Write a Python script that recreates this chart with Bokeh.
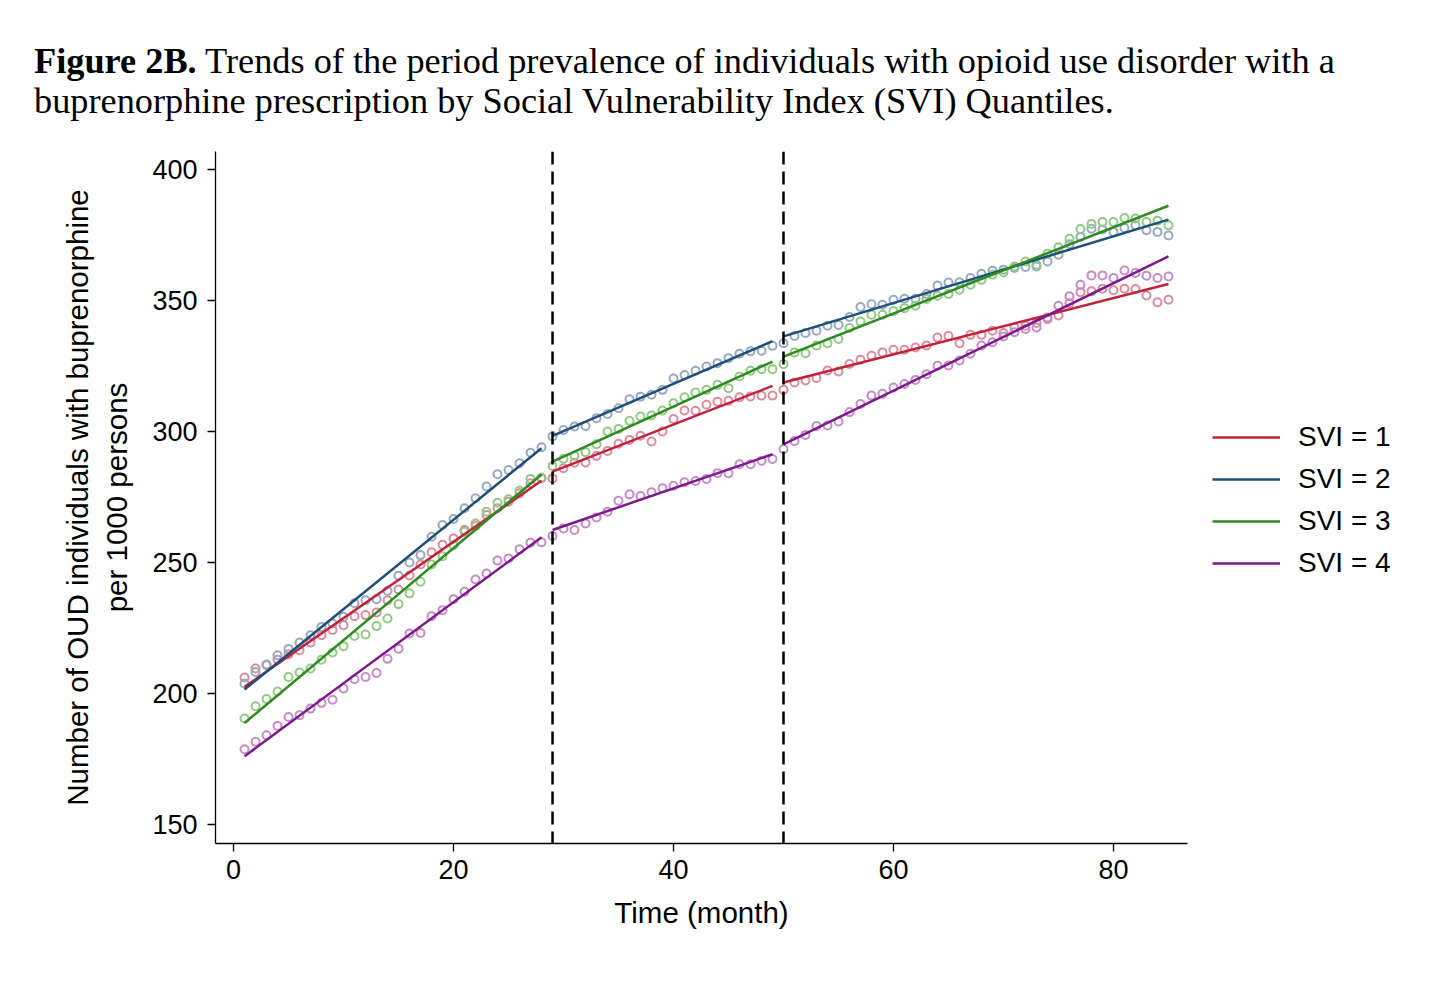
from bokeh.plotting import figure
from bokeh.models import Div, Span, Legend, LegendItem, Range1d, FixedTicker
from bokeh.layouts import column, row
from bokeh.embed import file_html
from bokeh.resources import INLINE

months = list(range(1, 86))

svi1 = [206.1, 209.5, 211.0, 212.9, 215.0, 216.5, 219.4, 222.2, 224.2, 226.0,
        229.5, 229.9, 230.9, 235.6, 239.7, 245.0, 249.2, 253.9, 256.8, 259.1,
        262.4, 263.9, 268.1, 270.7, 273.2, 276.4, 280.2, 282.1,
        282.1, 286.0, 288.1, 288.2, 290.7, 292.6, 295.3, 296.8, 298.4, 296.2,
        300.0, 304.8, 308.0, 307.9, 310.2, 311.4, 311.7, 313.1, 313.4, 313.7, 313.7,
        315.9, 318.7, 319.5, 320.4, 323.3, 322.9, 325.8, 327.4, 328.9, 330.2,
        331.2, 331.2, 332.1, 332.8, 335.9, 336.5, 333.7, 336.9, 336.9, 338.5,
        337.6, 339.7, 340.4, 341.4, 342.9, 344.3, 349.0, 353.2, 353.5, 354.5,
        353.9, 354.5, 354.4, 351.9, 349.3, 350.3]

svi2 = [203.8, 208.2, 210.8, 214.6, 217.0, 219.4, 222.2, 225.4, 226.7, 229.3,
        234.4, 235.6, 236.0, 239.2, 244.9, 250.0, 252.8, 259.8, 264.3, 266.6,
        270.7, 274.5, 279.0, 283.7, 285.3, 287.9, 291.9, 294.0,
        298.1, 300.6, 301.9, 302.1, 305.1, 306.7, 308.9, 312.3, 313.3, 314.0,
        315.9, 320.2, 321.6, 323.2, 324.8, 326.1, 328.0, 329.7, 330.6, 330.8, 332.7,
        333.7, 336.5, 337.6, 338.5, 340.4, 340.7, 343.7, 347.5, 348.6, 348.4,
        350.3, 350.7, 350.7, 352.5, 355.7, 356.9, 357.0, 358.6, 360.2, 361.4,
        361.8, 362.4, 362.8, 363.0, 364.9, 367.5, 371.5, 374.3, 377.4, 377.1,
        376.2, 377.7, 378.7, 376.8, 376.2, 374.8]

svi3 = [190.4, 195.1, 197.9, 200.7, 206.3, 208.0, 209.5, 212.9, 215.6, 218.0,
        221.9, 222.5, 225.7, 228.6, 234.1, 238.2, 242.6, 249.2, 252.4, 256.6,
        261.7, 264.9, 269.4, 272.8, 274.1, 277.4, 281.9, 282.4,
        286.8, 289.6, 290.7, 292.1, 295.1, 300.0, 301.0, 304.1, 305.7, 306.1,
        308.0, 310.8, 313.1, 314.9, 315.9, 317.8, 316.5, 321.0, 323.2, 323.8, 323.8,
        325.7, 330.2, 329.9, 332.8, 333.7, 335.3, 339.5, 342.0, 344.6, 344.6,
        345.9, 347.1, 348.0, 350.6, 351.8, 352.5, 354.1, 356.0, 357.9, 359.9,
        360.7, 363.0, 364.9, 363.7, 367.9, 370.3, 373.6, 377.3, 379.2, 380.0,
        380.0, 381.5, 381.3, 380.0, 380.5, 378.7]

svi4 = [178.7, 181.5, 184.0, 187.6, 191.0, 191.7, 194.2, 196.4, 197.6, 201.9,
        205.4, 206.3, 207.8, 213.2, 217.1, 222.9, 223.1, 229.5, 231.8, 236.0,
        238.8, 243.5, 245.8, 250.7, 251.5, 255.0, 257.5, 257.7,
        260.1, 263.0, 262.4, 264.9, 267.2, 269.4, 273.6, 276.0, 275.4, 276.8,
        278.3, 279.3, 280.6, 281.1, 281.9, 284.1, 284.1, 287.5, 287.5, 288.8, 289.5,
        293.3, 296.4, 298.7, 302.1, 302.3, 303.8, 307.4, 310.5, 313.7, 314.4,
        316.8, 318.1, 319.7, 321.9, 325.1, 325.2, 327.1, 329.7, 332.8, 334.1,
        336.3, 337.9, 339.1, 339.7, 343.5, 348.0, 351.6, 356.0, 359.6, 359.6,
        358.6, 361.5, 360.5, 359.5, 358.6, 359.2]

# fitted segmented trends: (start month, end month) per segment
seg_start = [1, 29, 50]
seg_end = [28, 49, 85]
fit1_start = [202.5, 284.7, 318.7]
fit1_end = [281.2, 317.4, 356.3]
fit2_start = [201.5, 298.3, 336.3]
fit2_end = [293.6, 334.5, 380.9]
fit3_start = [188.7, 288.5, 328.6]
fit3_end = [283.6, 326.7, 386.2]
fit4_start = [176.0, 262.4, 295.1]
fit4_end = [259.6, 291.3, 366.9]

breaks = [29, 50]
labels = ["SVI = 1", "SVI = 2", "SVI = 3", "SVI = 4"]
y_ticks = [150, 200, 250, 300, 350, 400]
x_ticks = [0, 20, 40, 60, 80]

line_colors = ["#c0223b", "#1f4e79", "#2e8b22", "#7b1a8a"]
dot_colors = ["#d98d9e", "#98aac1", "#92c986", "#c48dc7"]

SANS = "Liberation Sans"
FS = "27px"
FS_TITLE = "29.5px"

p = figure(width=1195, height=865, output_backend="svg", toolbar_location=None,
           x_range=Range1d(-1.64, 86.73), y_range=Range1d(142.7, 406.9),
           min_border_left=215, min_border_right=8, min_border_top=26,
           min_border_bottom=147)
p.outline_line_color = None
p.xgrid.visible = False
p.ygrid.visible = False
p.background_fill_color = "white"

for ax in (p.xaxis[0], p.yaxis[0]):
    ax.major_label_text_font = SANS
    ax.major_label_text_font_size = FS
    ax.major_label_text_color = "black"
    ax.axis_label_text_font = SANS
    ax.axis_label_text_font_size = FS_TITLE
    ax.axis_label_text_font_style = "normal"
    ax.axis_label_text_color = "black"
    ax.minor_tick_line_color = None
    ax.major_tick_in = 0
    ax.major_tick_out = 8
    ax.axis_line_width = 1.3
    ax.major_tick_line_width = 1.3
    ax.axis_line_color = "black"
    ax.major_tick_line_color = "black"

p.xaxis[0].ticker = FixedTicker(ticks=x_ticks)
p.yaxis[0].ticker = FixedTicker(ticks=y_ticks)
p.xaxis[0].axis_label = "Time (month)"
p.yaxis[0].axis_label = "Number of OUD individuals with buprenorphine\nper 1000 persons"
p.yaxis[0].major_label_orientation = "horizontal"
p.xaxis[0].major_label_standoff = 8
p.yaxis[0].major_label_standoff = 10
p.xaxis[0].axis_label_standoff = 14
p.yaxis[0].axis_label_standoff = 16

series = [svi1, svi2, svi3, svi4]
fits = [(fit1_start, fit1_end), (fit2_start, fit2_end),
        (fit3_start, fit3_end), (fit4_start, fit4_end)]

for vals, dc in zip(series, dot_colors):
    p.scatter(months, vals, marker="circle", size=8, fill_color=None,
              line_color=dc, line_width=2.0)

for (fs, fe), lc in zip(fits, line_colors):
    for a, b, v0, v1 in zip(seg_start, seg_end, fs, fe):
        p.line([a, b], [v0, v1], line_color=lc, line_width=2.5)

for bx in breaks:
    p.add_layout(Span(location=bx, dimension="height", line_color="black",
                      line_width=2.5, line_dash="13 7"))

# legend panel to the right of the plot (proxy lines lie outside its view)
lg = figure(width=225, height=865, output_backend="svg", toolbar_location=None,
            x_axis_type=None, y_axis_type=None, x_range=Range1d(0, 1),
            y_range=Range1d(0, 1), min_border_left=0, min_border_right=0,
            min_border_top=0, min_border_bottom=0)
lg.outline_line_color = None
lg.xgrid.visible = False
lg.ygrid.visible = False
items = []
for (fs, fe), lc, lab in zip(fits, line_colors, labels):
    r = lg.line([seg_start[0], seg_end[0]], [fs[0], fe[0]], line_color=lc, line_width=2.5)
    items.append(LegendItem(label=lab, renderers=[r]))
legend = Legend(items=items, location=(17, 264), orientation="vertical",
                label_text_font=SANS, label_text_font_size="28px",
                label_text_color="black", glyph_width=68, glyph_height=30,
                label_height=30, label_standoff=18, spacing=10,
                border_line_color=None, background_fill_alpha=0,
                margin=0, padding=10)
lg.add_layout(legend, "center")

title = Div(width=1420, height=115,
            text=('<div style="font-family:\'Liberation Serif\',serif;font-size:36.3px;'
                  'line-height:40px;color:black;padding-left:29px;padding-top:36px;'
                  'white-space:nowrap;">'
                  '<b>Figure 2B.</b> Trends of the period prevalence of individuals with '
                  'opioid use disorder with a<br>buprenorphine prescription by Social '
                  'Vulnerability Index (SVI) Quantiles.</div>'))

layout = column(title, row(p, lg, spacing=0), spacing=0)
open("out.html", "w").write(file_html(layout, INLINE))
